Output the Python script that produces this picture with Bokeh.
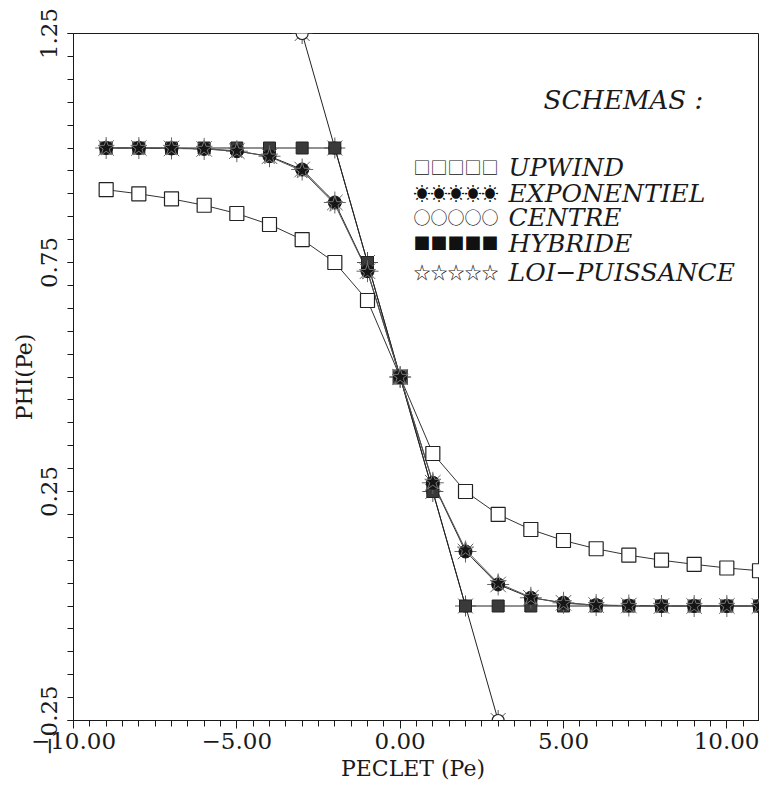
import numpy as np
from bokeh.plotting import figure
from bokeh.models import FixedTicker, Label, Range1d
from bokeh.embed import file_html
from bokeh.resources import INLINE

# ---- data ----
PECLET = [-9, -8, -7, -6, -5, -4, -3, -2, -1, 0, 1, 2, 3, 4, 5, 6, 7, 8, 9, 10, 11]
UPWIND = [0.909, 0.900, 0.889, 0.875, 0.857, 0.833, 0.800, 0.750, 0.667, 0.500,
          0.333, 0.250, 0.200, 0.167, 0.143, 0.125, 0.111, 0.100, 0.091, 0.083, 0.077]
EXPONENTIEL = [1.000, 1.000, 0.999, 0.998, 0.993, 0.982, 0.953, 0.881, 0.731, 0.500,
               0.269, 0.119, 0.047, 0.018, 0.007, 0.002, 0.001, 0.000, 0.000, 0.000, 0.000]
HYBRIDE = [1.00, 1.00, 1.00, 1.00, 1.00, 1.00, 1.00, 1.00, 0.75, 0.50,
           0.25, 0.00, 0.00, 0.00, 0.00, 0.00, 0.00, 0.00, 0.00, 0.00, 0.00]
LOI_PUISSANCE = [1.000, 1.000, 1.000, 0.998, 0.994, 0.981, 0.950, 0.877, 0.729, 0.500,
                 0.271, 0.123, 0.050, 0.019, 0.006, 0.002, 0.000, 0.000, 0.000, 0.000, 0.000]
CENTRE_PE = [-3, -2, -1, 0, 1, 2, 3]
CENTRE = [1.25, 1.00, 0.75, 0.50, 0.25, 0.00, -0.25]

X_TICKS = [-10, -5, 0, 5, 10]
X_LABELS = ["\u221210.00", "\u22125.00", "0.00", "5.00", "10.00"]
Y_TICKS = [-0.25, 0.25, 0.75, 1.25]
Y_LABELS = ["\u22120.25", "0.25", "0.75", "1.25"]

LEGEND_NAMES = ["UPWIND", "EXPONENTIEL", "CENTRE", "HYBRIDE", "LOI\u2212PUISSANCE"]
LEGEND_SYMBOLS = ["\u25a1\u25a1\u25a1\u25a1\u25a1", "\u2600\u2600\u2600\u2600\u2600",
                  "\u25cb\u25cb\u25cb\u25cb\u25cb", "\u25a0\u25a0\u25a0\u25a0\u25a0",
                  "\u2606\u2606\u2606\u2606\u2606"]

SERIF = "DejaVu Serif"
INK = "#1a1a1a"

p = figure(width=759, height=785, output_backend="svg", toolbar_location=None,
           x_range=Range1d(-10, 11), y_range=Range1d(-0.25, 1.25),
           min_border_left=73, min_border_right=0, min_border_top=33, min_border_bottom=65,
           background_fill_color="white", border_fill_color="white")
p.grid.visible = False
p.outline_line_color = INK
p.outline_line_width = 1

# axes
xa = p.xaxis[0]
xa.ticker = FixedTicker(ticks=X_TICKS, minor_ticks=list(np.arange(-10, 11.01, 0.5)))
xa.major_label_overrides = dict(zip(X_TICKS, X_LABELS))
xa.major_tick_out = 8
xa.major_tick_in = 0
xa.minor_tick_out = 6
xa.minor_tick_in = 0
xa.major_label_standoff = 4
xa.major_label_text_font = SERIF
xa.major_label_text_font_size = "23px"
xa.major_label_text_color = INK
xa.axis_label = "PECLET  (Pe)"
xa.axis_label_text_font = SERIF
xa.axis_label_text_font_style = "normal"
xa.axis_label_text_font_size = "22px"
xa.axis_label_text_color = INK
xa.axis_label_standoff = 4

ya = p.yaxis[0]
ya.ticker = FixedTicker(ticks=Y_TICKS, minor_ticks=list(np.arange(-0.25, 1.2501, 0.05)))
ya.major_label_overrides = dict(zip(Y_TICKS, Y_LABELS))
ya.major_label_orientation = "vertical"
ya.major_tick_out = 6
ya.major_tick_in = 0
ya.minor_tick_out = 6
ya.minor_tick_in = 0
ya.major_label_standoff = 11
ya.major_label_text_font = SERIF
ya.major_label_text_font_size = "23px"
ya.major_label_text_color = INK
ya.axis_label = "PHI(Pe)"
ya.axis_label_text_font = SERIF
ya.axis_label_text_font_style = "normal"
ya.axis_label_text_font_size = "22px"
ya.axis_label_text_color = INK
ya.axis_label_standoff = 1

for ax in (xa, ya):
    ax.axis_line_color = INK
    ax.major_tick_line_color = INK
    ax.minor_tick_line_color = INK

# lines
lw = 1
p.line(PECLET, UPWIND, line_color="#333333", line_width=lw)
p.line(CENTRE_PE, CENTRE, line_color="#222222", line_width=lw)
p.line(PECLET, HYBRIDE, line_color="#222222", line_width=lw)
p.line(PECLET, EXPONENTIEL, line_color="#222222", line_width=lw)
p.line(PECLET, LOI_PUISSANCE, line_color="#555555", line_width=lw)

# markers
p.scatter(PECLET, UPWIND, marker="square", size=14, fill_color="white",
          line_color="#222222", line_width=1.2)
p.scatter(CENTRE_PE, CENTRE, marker="asterisk", size=21, line_color="#555555", line_width=1)
p.scatter(CENTRE_PE, CENTRE, marker="circle", size=12, fill_color="white",
          line_color="#222222", line_width=1.2)
p.scatter(PECLET, HYBRIDE, marker="square", size=12, fill_color="#3a3a3a",
          line_color="#222222", line_width=1)
p.scatter(PECLET, EXPONENTIEL, marker="asterisk", size=22, line_color="#666666", line_width=1)
p.scatter(PECLET, EXPONENTIEL, marker="circle", size=13, fill_color="#151515",
          line_color="#151515", line_width=1)
p.scatter(PECLET, LOI_PUISSANCE, marker="star", size=17, fill_color=None,
          line_color="#777777", line_width=1)

# legend block ("SCHEMAS :")
p.add_layout(Label(x=4.39, y=1.104, text="SCHEMAS :", text_font=SERIF,
                   text_font_style="italic", text_font_size="26px", text_color=INK,
                   text_baseline="alphabetic"))
baselines = [0.957, 0.901, 0.848, 0.791, 0.728]
for name, sym, yb in zip(LEGEND_NAMES, LEGEND_SYMBOLS, baselines):
    p.add_layout(Label(x=3.32, y=yb, text=name, text_font=SERIF, text_font_style="italic",
                       text_font_size="25px", text_color=INK, text_baseline="alphabetic"))
    p.add_layout(Label(x=0.41, y=yb + 0.002, text=sym, text_font="Noto Sans CJK JP",
                       text_font_size="17px", text_color="#111111", text_baseline="alphabetic"))

open("out.html", "w").write(file_html(p, INLINE))
